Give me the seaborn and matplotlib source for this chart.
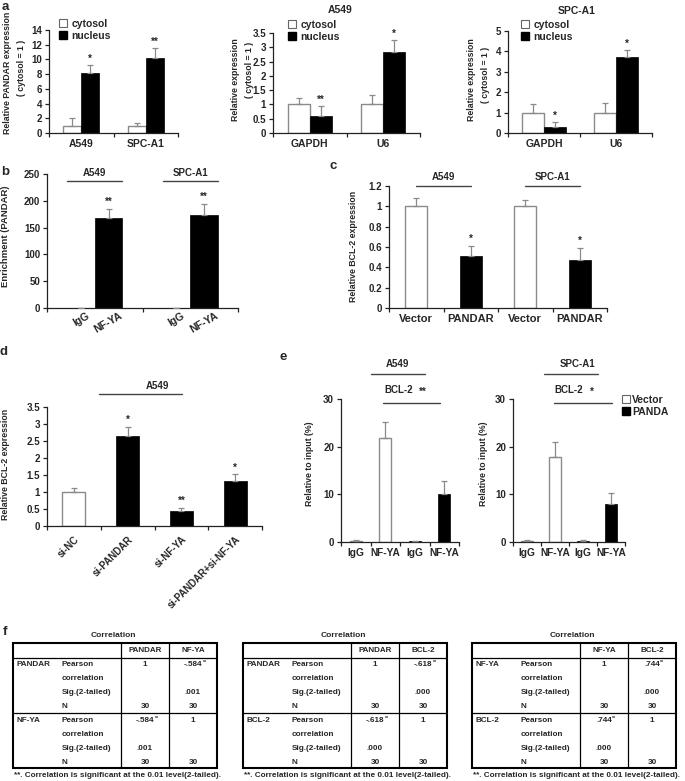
import numpy as np
import pandas as pd
import matplotlib
matplotlib.use("Agg")
import matplotlib.pyplot as plt
import matplotlib.transforms as mtrans
from matplotlib.patches import Patch, Rectangle
from matplotlib.ticker import FuncFormatter
import seaborn as sns

# ---------------- data ----------------
a1_cats = ["A549", "SPC-A1"]
a1_cyto = [1.0, 1.0]
a1_cyto_err = [1.1, 0.35]
a1_nuc = [8.2, 10.2]
a1_nuc_err = [1.0, 1.3]
a1_sig = ["*", "**"]

a2_cats = ["GAPDH", "U6"]
a2_cyto = [1.0, 1.0]
a2_cyto_err = [0.22, 0.33]
a2_nuc = [0.6, 2.82]
a2_nuc_err = [0.33, 0.42]
a2_sig = ["**", "*"]

a3_cats = ["GAPDH", "U6"]
a3_cyto = [1.0, 1.0]
a3_cyto_err = [0.4, 0.45]
a3_nuc = [0.3, 3.72]
a3_nuc_err = [0.22, 0.33]
a3_sig = ["*", "*"]

fractions = ["cytosol", "nucleus"]

b_cells = ["A549", "SPC-A1"]
b_antibodies = ["IgG", "NF-YA"]
b_igg = [0.6, 0.5]
b_igg_err = [0.3, 0.3]
b_nfya = [168, 173]
b_nfya_err = [17, 21]
b_sig = ["**", "**"]

c_cells = ["A549", "A549", "SPC-A1", "SPC-A1"]
c_groups = ["Vector", "PANDAR", "Vector", "PANDAR"]
c_vals = [1.0, 0.51, 1.0, 0.47]
c_err = [0.08, 0.10, 0.06, 0.12]
c_sig = ["", "*", "", "*"]

d_labels = ["si-NC", "si-PANDAR", "si-NF-YA", "si-PANDAR+si-NF-YA"]
d_vals = [1.0, 2.65, 0.43, 1.32]
d_err = [0.12, 0.27, 0.11, 0.20]
d_sig = ["", "*", "**", "*"]
d_kind = ["control", "si", "si", "si"]

e_labels = ["IgG", "NF-YA", "IgG", "NF-YA"]
e_groups = ["Vector", "Vector", "PANDA", "PANDA"]
e1_vals = [0.3, 21.8, 0.2, 10.0]
e1_err = [0.15, 3.3, 0.05, 2.9]
e2_vals = [0.25, 17.8, 0.3, 7.9]
e2_err = [0.12, 3.1, 0.15, 2.3]

corr_pairs = [("PANDAR", "NF-YA"), ("PANDAR", "BCL-2"), ("NF-YA", "BCL-2")]
corr_r = [-0.584, -0.618, 0.744]
corr_sig = [".001", ".000", ".000"]
corr_n = [30, 30, 30]

# ---------------- style ----------------
W, H = 685, 781
sns.set_style("ticks")
plt.rcParams["font.family"] = ["Liberation Sans", "DejaVu Sans"]
plt.rcParams["font.weight"] = "bold"
EDGE = "#8a8a8a"
ERR = "#8a8a8a"
LINE = "#444444"

fig = plt.figure(figsize=(W / 100, H / 100), dpi=100)


def add_ax(l, t, r, b):
    ax = fig.add_axes([l / W, 1 - b / H, (r - l) / W, (b - t) / H])
    ax._pxbox = (l, t, r, b)
    return ax


def ftext(x, y, s, **kw):
    fig.text(x / W, 1 - y / H, s, **kw)


def yfrac(ax, ypx):
    l, t, r, b = ax._pxbox
    return (b - ypx) / (b - t)


def style(ax, ymax, ystep, ncat):
    ax.set_ylim(0, ymax)
    ax.set_xlim(-0.5, ncat - 0.5)
    ax.set_yticks(np.arange(0, ymax + ystep / 2, ystep))
    ax.yaxis.set_major_formatter(FuncFormatter(lambda v, p: f"{v:g}"))
    sns.despine(ax=ax)
    for s in ("left", "bottom"):
        ax.spines[s].set_linewidth(0.9)
        ax.spines[s].set_color("#222222")
    ax.set_xticks(np.arange(-0.5, ncat), minor=True)
    ax.tick_params(axis="x", which="major", length=0, pad=4, labelsize=7.5)
    ax.tick_params(axis="x", which="minor", length=3, width=0.9, direction="out", color="#222222")
    ax.tick_params(axis="y", length=3, width=0.9, direction="out", labelsize=7, pad=2, color="#222222")
    ax.set_xlabel("")
    ax.set_ylabel("")


def finish_bars(ax, df, x, order, hue=None, hue_order=None, ymax=1.0):
    for p in list(ax.patches):
        fc = p.get_facecolor()
        if fc[0] > 0.5:
            p.set_edgecolor(EDGE)
            p.set_linewidth(1.0)
        else:
            p.set_edgecolor("black")
            p.set_linewidth(0.5)
        xc = p.get_x() + p.get_width() / 2
        h = p.get_height()
        ci = int(round(xc))
        if hue is not None:
            hi = 0 if xc < ci else 1
            row = df[(df[x] == order[ci]) & (df[hue] == hue_order[hi])].iloc[0]
        else:
            row = df[df[x] == order[ci]].iloc[0]
        e = row["err"]
        ax.errorbar([xc], [h], yerr=[[0], [e]], fmt="none", ecolor=ERR,
                    elinewidth=0.9, capsize=2, capthick=0.9, zorder=3)
        if row["sig"]:
            ax.text(xc, h + e + ymax * 0.015, row["sig"], ha="center", va="bottom",
                    fontsize=7, fontweight="bold")


def sig_line(ax, x0, x1, ypx, text=None, tx=None, typx=None):
    tr = mtrans.blended_transform_factory(ax.transData, ax.transAxes)
    yf = yfrac(ax, ypx)
    ax.plot([x0, x1], [yf, yf], transform=tr, color=LINE, lw=1.0, clip_on=False)
    if text:
        ax.text(tx, yfrac(ax, typx), text, transform=tr, ha="center", va="center",
                fontsize=7, fontweight="bold")


pal_frac = {"cytosol": "white", "nucleus": "black"}


# ---------------- panel a ----------------
def panel_a(box, cats, cyto, cyto_err, nuc, nuc_err, sig, ymax, ystep, width):
    df = pd.DataFrame({
        "cat": cats + cats,
        "frac": ["cytosol"] * len(cats) + ["nucleus"] * len(cats),
        "val": cyto + nuc,
        "err": cyto_err + nuc_err,
        "sig": [""] * len(cats) + sig,
    })
    ax = add_ax(*box)
    sns.barplot(data=df, x="cat", y="val", hue="frac", order=cats, hue_order=fractions,
                palette=pal_frac, width=width, errorbar=None, legend=False,
                saturation=1, ax=ax)
    style(ax, ymax, ystep, len(cats))
    finish_bars(ax, df, "cat", cats, "frac", fractions, ymax)
    return ax


def frac_legend(ax, xpx, ypx):
    handles = [Patch(facecolor="white", edgecolor="#666666", lw=0.8, label="cytosol"),
               Patch(facecolor="black", edgecolor="black", label="nucleus")]
    ax.legend(handles=handles, loc="upper left", bbox_to_anchor=(xpx / W, 1 - ypx / H),
              bbox_transform=fig.transFigure, frameon=False, fontsize=7.5,
              handlelength=0.8, handleheight=0.8, handletextpad=0.4, labelspacing=0.15,
              borderpad=0, borderaxespad=0)


ax_a1 = panel_a((49, 30, 178, 133), a1_cats, a1_cyto, a1_cyto_err, a1_nuc, a1_nuc_err,
                a1_sig, 14, 2, 0.56)
frac_legend(ax_a1, 59, 19)
ax_a2 = panel_a((273, 33, 420, 133), a2_cats, a2_cyto, a2_cyto_err, a2_nuc, a2_nuc_err,
                a2_sig, 3.5, 0.5, 0.6)
frac_legend(ax_a2, 288, 20)
ax_a3 = panel_a((508, 31, 652, 133), a3_cats, a3_cyto, a3_cyto_err, a3_nuc, a3_nuc_err,
                a3_sig, 5, 1, 0.6)
frac_legend(ax_a3, 521, 20)

ftext(5, 7, "a", fontsize=9.5, fontweight="bold", ha="center", va="center")
ftext(340, 10, "A549", fontsize=7.5, fontweight="bold", ha="center", va="center")
ftext(577, 11, "SPC-A1", fontsize=7.5, fontweight="bold", ha="center", va="center")
ftext(8, 73, "Relative PANDAR expression", rotation=90, fontsize=6.3, ha="center", va="center")
ftext(22, 68, "( cytosol = 1 )", rotation=90, fontsize=6.3, ha="center", va="center")
ftext(236, 80, "Relative expression", rotation=90, fontsize=6.3, ha="center", va="center")
ftext(249, 70, "( cytosol = 1 )", rotation=90, fontsize=6.3, ha="center", va="center")
ftext(472, 80, "Relative expression", rotation=90, fontsize=6.3, ha="center", va="center")
ftext(486, 75, "( cytosol = 1 )", rotation=90, fontsize=6.3, ha="center", va="center")

# ---------------- panel b ----------------
df_b = pd.DataFrame({
    "cell": b_cells + b_cells,
    "ab": ["IgG"] * 2 + ["NF-YA"] * 2,
    "val": b_igg + b_nfya,
    "err": b_igg_err + b_nfya_err,
    "sig": ["", ""] + b_sig,
})
ax_b = add_ax(47, 174, 238, 308)
sns.barplot(data=df_b, x="cell", y="val", hue="ab", order=b_cells, hue_order=b_antibodies,
            palette={"IgG": "black", "NF-YA": "black"}, width=0.58, errorbar=None,
            legend=False, saturation=1, ax=ax_b)
style(ax_b, 250, 50, 2)
finish_bars(ax_b, df_b, "cell", b_cells, "ab", b_antibodies, 250)
centers = sorted(p.get_x() + p.get_width() / 2 for p in ax_b.patches)
ax_b.set_xticks(centers)
ax_b.set_xticklabels(b_antibodies * 2, rotation=30, ha="center", fontsize=7.5)
ax_b.tick_params(axis="x", which="major", pad=2)
for i, cell in enumerate(b_cells):
    sig_line(ax_b, i - 0.29, i + 0.29, 181, cell, i, 173)
ftext(5, 172, "b", fontsize=9.5, fontweight="bold", ha="center", va="center")
ftext(6, 236, "Enrichment (PANDAR)", rotation=90, fontsize=6.8, ha="center", va="center")

# ---------------- panel c ----------------
c_keys = [f"{c}|{g}" for c, g in zip(c_cells, c_groups)]
df_c = pd.DataFrame({"key": c_keys, "grp": c_groups, "val": c_vals, "err": c_err, "sig": c_sig})
ax_c = add_ax(389, 186, 607, 308)
sns.barplot(data=df_c, x="key", y="val", hue="grp", order=c_keys,
            palette={"Vector": "white", "PANDAR": "black"}, width=0.4, dodge=False,
            errorbar=None, legend=False, saturation=1, ax=ax_c)
style(ax_c, 1.2, 0.2, 4)
finish_bars(ax_c, df_c, "key", c_keys, ymax=1.2)
ax_c.set_xticks(range(4))
ax_c.set_xticklabels(c_groups, fontsize=8)
sig_line(ax_c, 0, 1, 186, "A549", 0.5, 177)
sig_line(ax_c, 2, 3, 186, "SPC-A1", 2.5, 177)
ftext(333, 166, "c", fontsize=9.5, fontweight="bold", ha="center", va="center")
ftext(354, 246, "Relative BCL-2 expression", rotation=90, fontsize=6.3, ha="center", va="center")

# ---------------- panel d ----------------
df_d = pd.DataFrame({"lab": d_labels, "kind": d_kind, "val": d_vals, "err": d_err, "sig": d_sig})
ax_d = add_ax(47, 407, 262, 526)
sns.barplot(data=df_d, x="lab", y="val", hue="kind", order=d_labels,
            palette={"control": "white", "si": "black"}, width=0.43, dodge=False,
            errorbar=None, legend=False, saturation=1, ax=ax_d)
style(ax_d, 3.5, 0.5, 4)
finish_bars(ax_d, df_d, "lab", d_labels, ymax=3.5)
ax_d.set_xticks(range(4))
ax_d.set_xticklabels(d_labels, rotation=45, ha="right", rotation_mode="anchor", fontsize=7)
ax_d.tick_params(axis="x", which="major", pad=6)
sig_line(ax_d, 0.46, 2.02, 394, "A549", 1.55, 386)
ftext(4, 352, "d", fontsize=9.5, fontweight="bold", ha="center", va="center")
ftext(6, 464, "Relative BCL-2 expression", rotation=90, fontsize=6.3, ha="center", va="center")

# ---------------- panel e ----------------
e_keys = [f"{g}|{l}" for g, l in zip(e_groups, e_labels)]


def panel_e(box, vals, errs):
    df = pd.DataFrame({"key": e_keys, "grp": e_groups, "val": vals, "err": errs,
                       "sig": [""] * 4})
    ax = add_ax(*box)
    sns.barplot(data=df, x="key", y="val", hue="grp", order=e_keys,
                palette={"Vector": "white", "PANDA": "black"}, width=0.4, dodge=False,
                errorbar=None, legend=False, saturation=1, ax=ax)
    style(ax, 30, 10, 4)
    finish_bars(ax, df, "key", e_keys, ymax=30)
    ax.set_xticks(range(4))
    ax.set_xticklabels(e_labels, fontsize=7.3)
    return ax


ax_e1 = panel_e((341, 399, 459, 542), e1_vals, e1_err)
ax_e2 = panel_e((513, 399, 625, 542), e2_vals, e2_err)
sig_line(ax_e1, 0.52, 2.35, 374, "A549", 1.43, 364)
sig_line(ax_e1, 0.92, 2.86, 403, "BCL-2", 1.47, 390)
ax_e1.text(2.28, yfrac(ax_e1, 392), "**", transform=mtrans.blended_transform_factory(
    ax_e1.transData, ax_e1.transAxes), ha="center", va="center", fontsize=7)
sig_line(ax_e2, 0.61, 2.54, 374, "SPC-A1", 1.79, 364)
sig_line(ax_e2, 0.96, 3.04, 403, "BCL-2", 1.5, 390)
ax_e2.text(2.32, yfrac(ax_e2, 392), "*", transform=mtrans.blended_transform_factory(
    ax_e2.transData, ax_e2.transAxes), ha="center", va="center", fontsize=7)
ax_e2.legend(handles=[Patch(facecolor="white", edgecolor="#666666", lw=0.8, label="Vector"),
                      Patch(facecolor="black", edgecolor="black", label="PANDA")],
             loc="upper left", bbox_to_anchor=(622 / W, 1 - 395 / H),
             bbox_transform=fig.transFigure, frameon=False, fontsize=7.5,
             handlelength=0.8, handleheight=0.8, handletextpad=0.2, labelspacing=0.2,
             borderpad=0, borderaxespad=0)
ftext(283, 357, "e", fontsize=9.5, fontweight="bold", ha="center", va="center")
ftext(310, 464, "Relative to input (%)", rotation=90, fontsize=6.3, ha="center", va="center")
ftext(483, 464, "Relative to input (%)", rotation=90, fontsize=6.3, ha="center", va="center")

# ---------------- panel f (tables) ----------------
tab = fig.add_axes([0, 0, 1, 1 - 620 / H])
tab.set_xlim(0, W)
tab.set_ylim(H, 620)
tab.axis("off")
ftext(5, 632, "f", fontsize=9.5, fontweight="bold", ha="center", va="center")


def fmt_r(r):
    s = f"{r:.3f}"
    return s.replace("0.", ".", 1)


def draw_table(L, names, r, sig, n):
    top, bot, hdr, sep = 643, 768, 658, 713
    c1, c2 = L + 108, L + 156
    wid = 204
    tab.add_patch(Rectangle((L, top), wid, bot - top, fill=False, lw=1.5, ec="black"))
    tab.plot([c1, c1], [top, bot], color="black", lw=0.9)
    tab.plot([c2, c2], [top, bot], color="black", lw=0.9)
    tab.plot([L, L + wid], [hdr, hdr], color="black", lw=0.9)
    tab.plot([L, L + wid], [sep, sep], color="black", lw=0.9)
    fs = 5.9
    tab.text(L + 100, 636, "Correlation", ha="center", va="center", fontsize=6)
    x1, x2 = (c1 + c2) / 2, (c2 + L + wid) / 2
    tab.text(x1, 650.5, names[0], ha="center", va="center", fontsize=5.8)
    tab.text(x2, 650.5, names[1], ha="center", va="center", fontsize=5.8)
    rs = fmt_r(r)

    def rtext(x, y):
        tab.text(x, y, rs, ha="center", va="center", fontsize=fs)
        tab.text(x + len(rs) * 1.8 + 0.5, y - 2.5, "**", ha="left", va="center", fontsize=3.8)

    for bi, (y0, name) in enumerate([(665, names[0]), (721, names[1])]):
        tab.text(L + 4, y0, name, ha="left", va="center", fontsize=fs)
        for dy, lab in zip([0, 13.5, 28, 42], ["Pearson", "correlation", "Sig.(2-tailed)", "N"]):
            tab.text(L + 49, y0 + dy, lab, ha="left", va="center", fontsize=fs)
        xs_self, xs_other = (x1, x2) if bi == 0 else (x2, x1)
        tab.text(xs_self, y0, "1", ha="center", va="center", fontsize=fs)
        rtext(xs_other, y0)
        tab.text(xs_other, y0 + 28, sig, ha="center", va="center", fontsize=fs)
        tab.text(x1, y0 + 42, str(n), ha="center", va="center", fontsize=fs)
        tab.text(x2, y0 + 42, str(n), ha="center", va="center", fontsize=fs)
    tab.text(L + 1, 775.5, "**. Correlation is significant at the 0.01 level(2-tailed).",
             ha="left", va="center", fontsize=5.9)


for L, names, r, sg, n in zip([13, 243, 472], corr_pairs, corr_r, corr_sig, corr_n):
    draw_table(L, names, r, sg, n)

fig.savefig("out.png", dpi=100)
